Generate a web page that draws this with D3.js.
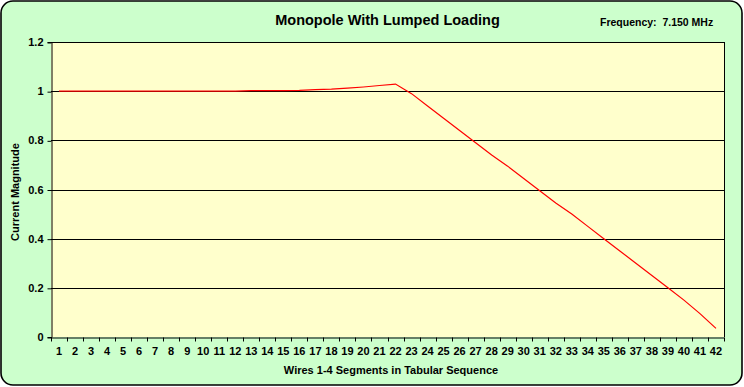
<!DOCTYPE html>
<html>
<head>
<meta charset="utf-8">
<script src="https://cdn.jsdelivr.net/npm/d3@7"></script>
<style>
  body { margin: 0; background: #fff; }
  text { font-family: Arial, "Liberation Sans", sans-serif; font-weight: bold; fill: #000; }
</style>
</head>
<body>
<div id="chart"></div>
<script>
// Current magnitude along the monopole segments

var segments = d3.range(1, 43);
var currentValues = [
  1.000, 1.000, 1.000, 1.000, 1.000, 1.000, 1.000, 1.000, 1.000, 1.000,
  1.000, 1.000, 1.002, 1.002, 1.002, 1.003, 1.006, 1.008, 1.012, 1.017,
  1.023, 1.029, 0.990, 0.940, 0.890, 0.840, 0.790, 0.740, 0.695, 0.645,
  0.595, 0.545, 0.500, 0.450, 0.400, 0.350, 0.300, 0.250, 0.200, 0.150,
  0.095, 0.035
];
var yTicks = [0, 0.2, 0.4, 0.6, 0.8, 1, 1.2];

var title = "Monopole With Lumped Loading";
var freqLabel = "Frequency:  7.150 MHz";
var xTitle = "Wires 1-4 Segments in Tabular Sequence";
var yTitle = "Current Magnitude";

var width = 744;
var height = 387;

var margin = {
  top: 42,
  left: 51,
  right: 20,
  bottom: 50
};

var svg = d3.select('#chart')
  .append('svg')
  .attr('width', width)
  .attr('height', height);

// chart area with rounded border
svg.append('rect')
  .attr('x', 1)
  .attr('y', 1)
  .attr('width', 741)
  .attr('height', 384)
  .attr('rx', 12)
  .attr('ry', 12)
  .style('fill', '#ccffcc')
  .style('stroke', '#000')
  .style('stroke-width', 1.6);

var w = width - margin.left - margin.right;   // 673
var h = height - margin.top - margin.bottom;  // 295

var g = svg.append('g')
  .attr('transform', 'translate(' + margin.left + ',' + margin.top + ')');

var x_scale = d3.scaleBand()
  .domain(segments)
  .range([0, w]);

var y_scale = d3.scaleLinear()
  .domain([0, 1.2])
  .range([h, 0]);

// plot area
g.append('rect')
  .attr('width', w)
  .attr('height', h)
  .style('fill', '#ffffcc');

// gridlines
g.selectAll('.grid')
  .data(yTicks.slice(1))
  .enter()
  .append('line')
  .attr('class', 'grid')
  .attr('x1', 0)
  .attr('x2', w)
  .attr('y1', function(d) { return Math.round(y_scale(d)) + 0.5; })
  .attr('y2', function(d) { return Math.round(y_scale(d)) + 0.5; })
  .style('stroke', '#000')
  .style('stroke-width', 1);

// right border
g.append('line')
  .attr('x1', w + 0.5).attr('x2', w + 0.5)
  .attr('y1', 0).attr('y2', h)
  .style('stroke', '#000');

// y axis
var yAxis = d3.axisLeft(y_scale)
  .tickValues(yTicks)
  .tickSize(4)
  .tickPadding(4)
  .tickFormat(function(d) { return d3.format('')(+d.toFixed(1)); });

var yG = g.append('g')
  .attr('class', 'axis axis-y')
  .attr('transform', 'translate(0.5,0)')
  .call(yAxis);
yG.select('.domain').style('stroke', '#000');
yG.selectAll('.tick line').style('stroke', '#000')
  .attr('transform', 'translate(0,0.5)');
yG.selectAll('text')
  .style('font-size', '11px')
  .style('font-family', 'Arial, "Liberation Sans", sans-serif')
  .style('font-weight', 'bold');

// x axis: labels at category centers, ticks on boundaries
var xAxis = d3.axisBottom(x_scale)
  .tickSize(0)
  .tickPadding(10);

var xG = g.append('g')
  .attr('class', 'axis axis-x')
  .attr('transform', 'translate(0,' + (h + 0.5) + ')')
  .call(xAxis);
xG.select('.domain').style('stroke', '#000');
xG.selectAll('text')
  .style('font-size', '11px')
  .style('font-family', 'Arial, "Liberation Sans", sans-serif')
  .style('font-weight', 'bold');

xG.selectAll('.boundary')
  .data(segments.concat([null]))
  .enter()
  .append('line')
  .attr('class', 'boundary')
  .attr('x1', function(d) { return Math.round(d === null ? w : x_scale(d)) + 0.5; })
  .attr('x2', function(d) { return Math.round(d === null ? w : x_scale(d)) + 0.5; })
  .attr('y1', 0)
  .attr('y2', 4)
  .style('stroke', '#000');

// current line
var line = d3.line()
  .x(function(d, i) { return x_scale(segments[i]) + x_scale.bandwidth() / 2; })
  .y(function(d) { return y_scale(d); });

g.append('path')
  .datum(currentValues)
  .attr('class', 'line')
  .attr('d', line)
  .style('fill', 'none')
  .style('stroke', '#ff0000')
  .style('stroke-width', 1.2);

// titles
svg.append('text')
  .attr('x', 387.5)
  .attr('y', 25)
  .style('text-anchor', 'middle')
  .style('font-size', '14.5px')
  .text(title);

svg.append('text')
  .attr('x', 600)
  .attr('y', 26)
  .style('font-size', '10.5px')
  .style('white-space', 'pre')
  .attr('xml:space', 'preserve')
  .text(freqLabel);

svg.append('text')
  .attr('x', 391)
  .attr('y', 374)
  .style('text-anchor', 'middle')
  .style('font-size', '11px')
  .text(xTitle);

svg.append('text')
  .attr('transform', 'translate(19,' + 192 + ') rotate(-90)')
  .style('text-anchor', 'middle')
  .style('font-size', '11px')
  .text(yTitle);
</script>
</body>
</html>
